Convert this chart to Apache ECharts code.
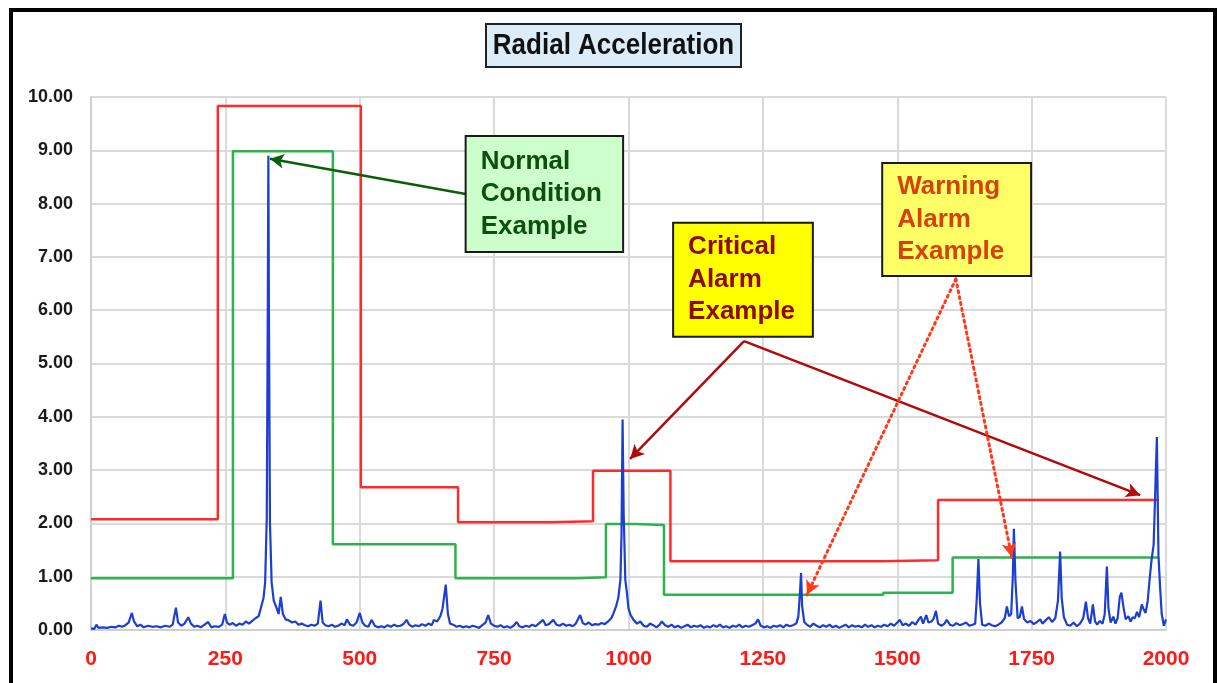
<!DOCTYPE html>
<html>
<head>
<meta charset="utf-8">
<title>Radial Acceleration</title>
<script src="https://cdn.jsdelivr.net/npm/echarts@6/dist/echarts.min.js"></script>
<style>
  html, body { margin: 0; padding: 0; background: #ffffff; }
  #main { width: 1217px; height: 683px; }
</style>
</head>
<body>
<div id="main"></div>
<script>
// Axis ticks
const xTicks = [0, 250, 500, 750, 1000, 1250, 1500, 1750, 2000];
const yTicks = [0, 1, 2, 3, 4, 5, 6, 7, 8, 9, 10];

// Critical (alarm) limit band: edges in Hz, level per band in g
const alarmEdges  = [0, 236, 502, 683, 858, 934, 1078, 1471, 1576, 1987];
const alarmLevels = [2.08, 9.83, 2.68, 2.02, 2.04, 2.99, 1.29, 1.31, 2.44];

// Warning limit band
const warnEdges  = [0, 264, 450, 678, 904, 958, 1012, 1066, 1474, 1603, 1987];
const warnLevels = [0.97, 8.98, 1.61, 0.97, 0.99, 1.99, 1.97, 0.66, 0.70, 1.36];

// Measured spectrum: [frequency, amplitude]
const spectrum = [
  [0,0.03],[6,0.02],[10,0.10],[14,0.04],[22,0.05],[30,0.04],[38,0.06],[46,0.05],[52,0.08],[58,0.06],
  [64,0.09],[70,0.14],[76,0.32],[80,0.16],[86,0.07],[92,0.10],[98,0.05],[106,0.08],[114,0.06],[122,0.07],
  [130,0.05],[138,0.08],[146,0.06],[152,0.10],[158,0.42],[162,0.14],[168,0.08],[174,0.12],[181,0.24],[186,0.12],
  [192,0.06],[198,0.08],[204,0.05],[210,0.09],[218,0.15],[224,0.05],[230,0.07],[238,0.06],[244,0.10],[249,0.30],
  [253,0.14],[258,0.10],[264,0.13],[270,0.08],[276,0.12],[282,0.10],[288,0.16],[294,0.12],[300,0.17],[306,0.22],
  [312,0.26],[317,0.45],[321,0.60],[324,0.90],[327,2.10],[329,6.20],[330,8.90],[331,6.00],[333,2.00],[336,0.90],
  [340,0.55],[345,0.42],[349,0.30],[353,0.62],[357,0.30],[362,0.20],[368,0.18],[374,0.14],[380,0.16],[386,0.10],
  [392,0.12],[398,0.09],[404,0.07],[410,0.10],[416,0.08],[422,0.12],[427,0.55],[431,0.14],[436,0.09],[442,0.07],
  [448,0.10],[454,0.06],[460,0.08],[466,0.12],[472,0.09],[476,0.20],[482,0.10],[488,0.08],[494,0.14],[500,0.32],
  [505,0.14],[510,0.08],[516,0.06],[522,0.19],[528,0.08],[534,0.05],[540,0.07],[546,0.05],[552,0.09],[558,0.06],
  [564,0.10],[570,0.07],[576,0.08],[582,0.12],[587,0.19],[592,0.10],[598,0.06],[604,0.09],[610,0.07],[616,0.11],
  [622,0.08],[628,0.12],[634,0.09],[638,0.19],[644,0.16],[650,0.26],[654,0.40],[660,0.85],[664,0.30],[668,0.12],
  [674,0.10],[680,0.06],[686,0.08],[692,0.05],[698,0.07],[704,0.05],[710,0.08],[716,0.06],[722,0.04],[728,0.09],
  [734,0.14],[739,0.28],[744,0.12],[750,0.08],[756,0.06],[762,0.09],[768,0.05],[774,0.07],[780,0.04],[786,0.08],
  [792,0.15],[797,0.07],[803,0.05],[809,0.08],[815,0.06],[821,0.10],[827,0.07],[833,0.12],[841,0.19],[846,0.09],
  [852,0.11],[860,0.19],[866,0.10],[872,0.08],[878,0.12],[884,0.08],[890,0.10],[896,0.07],[902,0.12],[910,0.28],
  [915,0.13],[920,0.10],[926,0.14],[932,0.09],[938,0.11],[944,0.10],[950,0.13],[956,0.11],[962,0.16],[968,0.22],
  [972,0.31],[977,0.45],[981,0.60],[985,0.95],[987,1.80],[989,3.95],[991,2.20],[994,0.95],[997,0.70],[1000,0.40],
  [1004,0.28],[1010,0.18],[1016,0.12],[1022,0.16],[1028,0.08],[1034,0.06],[1040,0.12],[1046,0.09],[1052,0.05],[1058,0.10],
  [1062,0.16],[1068,0.09],[1074,0.06],[1080,0.10],[1086,0.05],[1092,0.08],[1098,0.04],[1104,0.07],[1110,0.10],[1116,0.05],
  [1122,0.08],[1128,0.06],[1134,0.09],[1140,0.04],[1146,0.07],[1152,0.05],[1158,0.09],[1164,0.06],[1170,0.10],[1176,0.05],
  [1182,0.07],[1188,0.04],[1194,0.08],[1200,0.06],[1206,0.10],[1212,0.05],[1218,0.08],[1224,0.06],[1230,0.09],[1236,0.12],
  [1241,0.20],[1246,0.08],[1252,0.05],[1258,0.07],[1264,0.04],[1270,0.08],[1276,0.06],[1282,0.09],[1288,0.05],[1294,0.10],
  [1300,0.07],[1306,0.09],[1312,0.12],[1316,0.25],[1319,0.70],[1321,1.07],[1323,0.45],[1327,0.15],[1332,0.10],[1338,0.06],
  [1344,0.12],[1350,0.08],[1356,0.05],[1362,0.09],[1368,0.06],[1374,0.10],[1380,0.05],[1386,0.08],[1392,0.04],[1398,0.07],
  [1404,0.10],[1410,0.05],[1416,0.09],[1422,0.06],[1428,0.08],[1434,0.05],[1440,0.10],[1446,0.06],[1452,0.09],[1458,0.05],
  [1464,0.08],[1470,0.06],[1476,0.10],[1482,0.07],[1488,0.12],[1494,0.08],[1500,0.14],[1505,0.19],[1510,0.09],[1516,0.12],
  [1522,0.08],[1528,0.15],[1534,0.10],[1540,0.20],[1544,0.25],[1548,0.12],[1554,0.28],[1558,0.14],[1564,0.16],[1568,0.22],
  [1572,0.36],[1576,0.12],[1582,0.08],[1588,0.12],[1592,0.19],[1598,0.10],[1604,0.08],[1610,0.13],[1616,0.09],[1622,0.11],
  [1628,0.14],[1634,0.08],[1640,0.10],[1645,0.12],[1648,0.60],[1651,1.33],[1654,0.50],[1658,0.10],[1664,0.08],[1670,0.12],
  [1676,0.09],[1682,0.07],[1688,0.10],[1694,0.14],[1700,0.22],[1704,0.44],[1708,0.26],[1712,0.30],[1715,1.00],[1717,1.90],
  [1720,0.90],[1724,0.22],[1728,0.25],[1732,0.44],[1736,0.20],[1742,0.14],[1748,0.17],[1754,0.11],[1760,0.15],[1766,0.20],
  [1770,0.12],[1776,0.18],[1782,0.24],[1788,0.15],[1794,0.22],[1799,0.55],[1803,1.47],[1806,0.60],[1810,0.24],[1816,0.10],
  [1822,0.08],[1828,0.14],[1834,0.07],[1840,0.12],[1846,0.22],[1851,0.53],[1855,0.22],[1859,0.12],[1864,0.48],[1868,0.16],
  [1872,0.10],[1877,0.17],[1882,0.12],[1886,0.30],[1890,1.19],[1893,0.40],[1897,0.14],[1902,0.25],[1906,0.12],[1910,0.22],
  [1914,0.62],[1917,0.70],[1921,0.42],[1925,0.20],[1930,0.26],[1934,0.16],[1938,0.24],[1942,0.22],[1946,0.34],[1950,0.24],
  [1955,0.48],[1958,0.40],[1962,0.32],[1966,0.55],[1970,1.00],[1973,1.30],[1977,1.60],[1980,2.60],[1983,3.62],[1986,1.40],
  [1989,0.80],[1992,0.30],[1996,0.08],[2000,0.20]
];

// Callout boxes, placed in axis units
const notes = [
  { lines: ['Normal', 'Condition', 'Example'], x0: 697, x1: 990, y0: 7.09, y1: 9.27,
    fill: '#ccffcc', color: '#0d4f0d' },
  { lines: ['Critical', 'Alarm', 'Example'], x0: 1083, x1: 1343, y0: 5.50, y1: 7.64,
    fill: '#ffff00', color: '#8e0a0a' },
  { lines: ['Warning', 'Alarm', 'Example'], x0: 1472, x1: 1749, y0: 6.64, y1: 8.76,
    fill: '#ffff66', color: '#d8400e' }
];

// Turn band edges/levels into vertices for a stepped line
function bandPoints(edges, levels) {
  const pts = levels.map((lv, i) => [edges[i], lv]);
  pts.push([edges[edges.length - 1], levels[levels.length - 1]]);
  return pts;
}

const FONT = '"Liberation Sans", Arial, Helvetica, sans-serif';

function arrow(from, to, style) {
  return [{ coord: from, lineStyle: style }, { coord: to, lineStyle: style }];
}

const chart = echarts.init(document.getElementById('main'));

const option = {
  animation: false,
  backgroundColor: '#ffffff',
  grid: { left: 91, right: 51, top: 97, bottom: 53, containLabel: false },
  xAxis: {
    type: 'value',
    min: xTicks[0],
    max: xTicks[xTicks.length - 1],
    interval: xTicks[1] - xTicks[0],
    axisLine: { show: true, lineStyle: { color: '#cfcfcf', width: 2 } },
    axisTick: { show: false },
    axisLabel: {
      color: '#ff1a1a', fontFamily: FONT, fontWeight: 'bold', fontSize: 21, margin: 19,
      formatter: v => String(v)
    },
    splitLine: { show: true, lineStyle: { color: '#dadada', width: 2 } }
  },
  yAxis: {
    type: 'value',
    min: yTicks[0],
    max: yTicks[yTicks.length - 1],
    interval: yTicks[1] - yTicks[0],
    axisLine: { show: true, lineStyle: { color: '#cfcfcf', width: 2 } },
    axisTick: { show: false },
    axisLabel: {
      color: '#1a1a1a', fontFamily: FONT, fontWeight: 'bold', fontSize: 18, margin: 18,
      formatter: v => v.toFixed(2)
    },
    splitLine: { show: true, lineStyle: { color: '#dadada', width: 2 } }
  },
  series: [
    {
      name: 'Critical limit',
      type: 'line',
      step: 'end',
      data: bandPoints(alarmEdges, alarmLevels),
      symbol: 'none',
      lineStyle: { color: '#ff2b2b', width: 2.5 },
      silent: true,
      markLine: {
        silent: true,
        symbol: ['none', 'arrow'],
        symbolSize: [11, 14],
        label: { show: false },
        emphasis: { disabled: true },
        lineStyle: { color: '#b00a0a', width: 2.5, type: 'solid' },
        data: [
          arrow([1215, 5.42], [1003, 3.21], { color: '#b00a0a', width: 2.5, type: 'solid' }),
          arrow([1215, 5.42], [1952, 2.53], { color: '#b00a0a', width: 2.5, type: 'solid' })
        ]
      }
    },
    {
      name: 'Warning limit',
      type: 'line',
      step: 'end',
      data: bandPoints(warnEdges, warnLevels),
      symbol: 'none',
      lineStyle: { color: '#2cb34c', width: 2.5 },
      silent: true,
      markLine: {
        silent: true,
        symbol: ['none', 'arrow'],
        symbolSize: [11, 14],
        label: { show: false },
        emphasis: { disabled: true },
        lineStyle: { color: '#0b5e0b', width: 2.5, type: 'solid' },
        data: [
          arrow([697, 8.18], [333, 8.84], { color: '#0b5e0b', width: 2.5, type: 'solid' })
        ]
      }
    },
    {
      name: 'Radial acceleration',
      type: 'line',
      data: spectrum,
      symbol: 'none',
      lineStyle: { color: '#1d3fd0', width: 2.2 },
      silent: true,
      markLine: {
        silent: true,
        symbol: ['none', 'arrow'],
        symbolSize: [11, 14],
        label: { show: false },
        emphasis: { disabled: true },
        lineStyle: { color: '#ff3a1a', width: 3, type: [2, 4], cap: 'round' },
        data: [
          arrow([1609, 6.585], [1332, 0.66], { color: '#ff3a1a', width: 3, type: [2, 4], cap: 'round' }),
          arrow([1609, 6.585], [1713, 1.37], { color: '#ff3a1a', width: 3, type: [2, 4], cap: 'round' })
        ]
      }
    }
  ]
};

chart.setOption(option);

// Frame, title and callouts
const graphics = [
  {
    type: 'rect', silent: true, z: 100,
    shape: { x: 11, y: 10, width: 1204, height: 700 },
    style: { fill: 'none', stroke: '#000000', lineWidth: 4 }
  },
  {
    type: 'rect', silent: true, z: 100,
    shape: { x: 486, y: 24, width: 255, height: 43 },
    style: { fill: '#dcecf8', stroke: '#222222', lineWidth: 2 }
  },
  {
    type: 'text', silent: true, z: 101,
    x: 613.5, y: 46, scaleY: 1.12,
    style: {
      text: 'Radial Acceleration', fill: '#111111',
      font: 'bold 26px ' + FONT, align: 'center', verticalAlign: 'middle'
    }
  }
];

notes.forEach(n => {
  const tl = chart.convertToPixel({ gridIndex: 0 }, [n.x0, n.y1]);
  const br = chart.convertToPixel({ gridIndex: 0 }, [n.x1, n.y0]);
  graphics.push({
    type: 'rect', silent: true, z: 100,
    shape: { x: tl[0], y: tl[1], width: br[0] - tl[0], height: br[1] - tl[1] },
    style: { fill: n.fill, stroke: '#1a1a1a', lineWidth: 2 }
  });
  graphics.push({
    type: 'text', silent: true, z: 101,
    x: tl[0] + 15, y: (tl[1] + br[1]) / 2,
    style: {
      text: n.lines.join('\n'), fill: n.color,
      font: 'bold 26px ' + FONT, lineHeight: 32.5,
      align: 'left', verticalAlign: 'middle'
    }
  });
});

chart.setOption({ graphic: graphics });
</script>
</body>
</html>
